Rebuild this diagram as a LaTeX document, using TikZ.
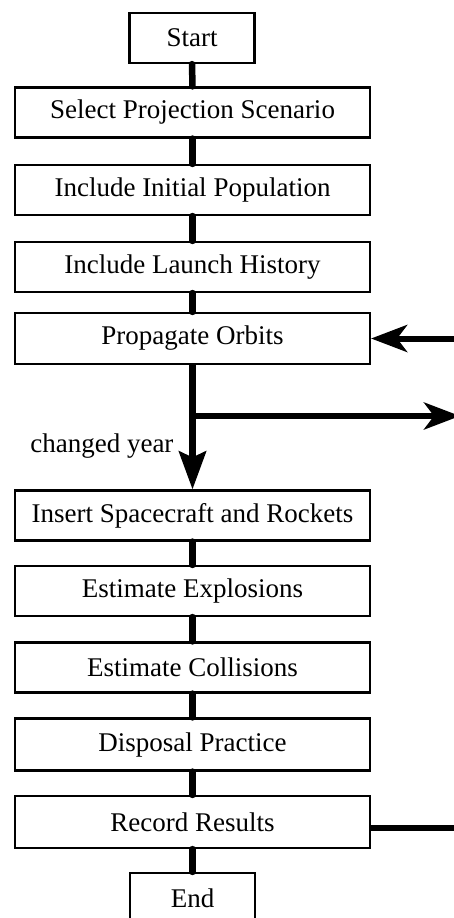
\documentclass[tikz,border=0pt]{standalone}
\usepackage{fontspec}
\setmainfont{Liberation Serif}
\usetikzlibrary{arrows.meta}
\begin{document}
\begin{tikzpicture}[x=1pt,y=-1pt,
  stepbox/.style={draw=black, line width=2.2pt, minimum height=50pt,
    inner sep=0pt, font=\fontsize{27}{30}\selectfont},
  wide/.style={stepbox, minimum width=355pt},
  narrow/.style={stepbox, minimum width=125pt},
  conn/.style={line width=6.5pt, line cap=round},
  flow/.style={line width=6pt},
  headside/.style={-{Stealth[length=36pt,width=27pt,inset=10pt]}},
  headdown/.style={-{Stealth[length=38pt,width=27pt,inset=6pt]}}]
  \fill[white] (0,0) rectangle (453,918);
  \useasboundingbox (0,0) rectangle (453,918);

  % main column
  \node[narrow] (start) at (192,38) {Start};
  \node[wide] (sel)  at (192.5,112.5) {Select Projection Scenario};
  \node[wide] (pop)  at (192.5,190) {Include Initial Population};
  \node[wide] (lau)  at (192.5,267) {Include Launch History};
  \node[wide, minimum height=51pt] (prop) at (192.5,338.5) {Propagate Orbits};
  \node[wide] (ins)  at (192.5,515.5) {Insert Spacecraft and Rockets};
  \node[wide] (expl) at (192.5,591) {Estimate Explosions};
  \node[wide] (coll) at (192.5,667.5) {Estimate Collisions};
  \node[wide, minimum height=52pt] (disp) at (192.5,744.5) {Disposal Practice};
  \node[wide, minimum height=52pt] (rec)  at (192.5,822) {Record Results};
  \node[narrow] (fin) at (192.5,898) {End};

  % straight links between the steps
  \draw[conn] (start.south) -- (sel.north);
  \draw[conn] (sel.south) -- (pop.north);
  \draw[conn] (pop.south) -- (lau.north);
  \draw[conn] (lau.south) -- (prop.north);
  \draw[conn] (ins.south) -- (expl.north);
  \draw[conn] (expl.south) -- (coll.north);
  \draw[conn] (coll.south) -- (disp.north);
  \draw[conn] (disp.south) -- (rec.north);
  \draw[conn] (rec.south) -- (fin.north);

  % yearly loop
  \coordinate (br) at (192.5,416);
  \coordinate (outA) at (460,416);
  \coordinate (inA) at (462,338.5);
  \coordinate (outB) at (460,828);
  \draw[conn, line cap=butt, headdown] (prop.south) -- (ins.north);
  \node[anchor=base east, font=\fontsize{27}{30}\selectfont] (lbl) at (177,452) {changed year};
  \draw[flow, headside] (br) -- (outA);
  \draw[flow, headside] (inA) -- (prop.east);
  \draw[flow] (rec.east) ++(0,6) -- (outB);
\end{tikzpicture}
\end{document}
